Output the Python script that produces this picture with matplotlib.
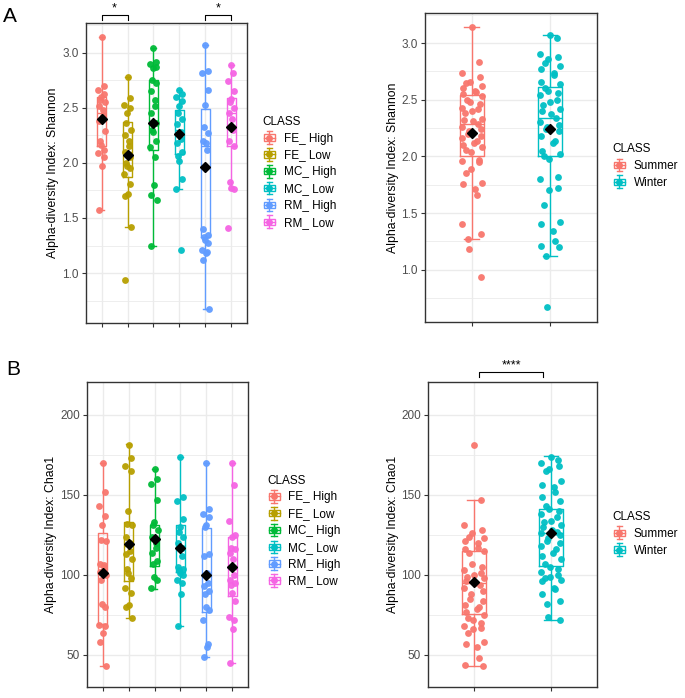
import numpy as np
import matplotlib
matplotlib.use("Agg")
import matplotlib.pyplot as plt
from matplotlib.lines import Line2D
from matplotlib.patches import Rectangle
from matplotlib.legend_handler import HandlerBase

plt.rcParams['font.family'] = ['Liberation Sans', 'DejaVu Sans']

# ---------------- data ----------------
six_classes = ["FE_ High", "FE_ Low", "MC_ High", "MC_ Low", "RM_ High", "RM_ Low"]
six_colors = ["#F8766D", "#B79F00", "#00BA38", "#00BFC4", "#619CFF", "#F564E3"]
season_classes = ["Summer", "Winter"]
season_colors = ["#F8766D", "#00BFC4"]

# Shannon, by site/level
sh_fe_high = [3.14, 2.70, 2.66, 2.63, 2.60, 2.57, 2.55, 2.52, 2.48, 2.43, 2.38, 2.29, 2.20, 2.16, 2.12, 2.09, 2.05, 1.97, 1.57]
sh_fe_low = [2.78, 2.59, 2.53, 2.50, 2.45, 2.36, 2.30, 2.25, 2.20, 2.15, 2.10, 2.05, 2.00, 1.97, 1.95, 1.90, 1.81, 1.72, 1.70, 1.42, 0.94]
sh_mc_high = [3.04, 2.92, 2.90, 2.87, 2.86, 2.75, 2.73, 2.65, 2.57, 2.52, 2.45, 2.36, 2.30, 2.28, 2.20, 2.14, 2.05, 1.80, 1.71, 1.66, 1.25]
sh_mc_low = [2.66, 2.63, 2.60, 2.56, 2.52, 2.45, 2.40, 2.35, 2.28, 2.22, 2.18, 2.10, 2.06, 2.02, 1.85, 1.76, 1.21]
sh_rm_high = [3.07, 2.83, 2.82, 2.66, 2.53, 2.33, 2.27, 2.20, 2.18, 2.12, 1.40, 1.35, 1.33, 1.30, 1.27, 1.21, 1.19, 1.18, 1.12, 0.67]
sh_rm_low = [2.89, 2.82, 2.74, 2.65, 2.58, 2.55, 2.50, 2.45, 2.40, 2.30, 2.20, 2.15, 1.83, 1.77, 1.76, 1.41]

# box stats for the six groups (Shannon)
sh6_lo = [1.57, 1.42, 1.25, 1.76, 0.67, 1.76]
sh6_q1 = [2.15, 1.87, 2.12, 2.08, 1.33, 2.15]
sh6_med = [2.45, 2.10, 2.35, 2.30, 2.15, 2.45]
sh6_q3 = [2.60, 2.37, 2.75, 2.48, 2.49, 2.59]
sh6_hi = [3.14, 2.78, 3.04, 2.66, 3.07, 2.89]
sh6_mean = [2.40, 2.07, 2.36, 2.26, 1.96, 2.33]

# Shannon, by season
sh_summer = [3.14, 2.83, 2.74, 2.70, 2.66, 2.65, 2.62, 2.60, 2.58, 2.57, 2.55, 2.53, 2.50, 2.48, 2.46, 2.43,
             2.42, 2.40, 2.38, 2.33, 2.32, 2.31, 2.29, 2.26, 2.24, 2.22, 2.20, 2.18, 2.16, 2.14, 2.12, 2.10,
             2.08, 2.06, 2.04, 1.97, 1.96, 1.95, 1.89, 1.85, 1.77, 1.76, 1.71, 1.66, 1.40, 1.32, 1.27, 1.18, 0.94]
sh_winter = [3.07, 3.04, 2.90, 2.88, 2.86, 2.82, 2.80, 2.77, 2.74, 2.72, 2.66, 2.64, 2.60, 2.58, 2.56, 2.54,
             2.50, 2.48, 2.45, 2.42, 2.40, 2.37, 2.34, 2.30, 2.28, 2.26, 2.24, 2.22, 2.18, 2.14, 2.12, 2.05,
             2.02, 2.00, 1.98, 1.82, 1.80, 1.72, 1.70, 1.57, 1.42, 1.40, 1.34, 1.25, 1.21, 1.20, 1.12, 0.67]
sh2_lo = [1.27, 1.12]
sh2_q1 = [2.00, 2.00]
sh2_med = [2.29, 2.34]
sh2_q3 = [2.54, 2.61]
sh2_hi = [3.14, 3.07]
sh2_mean = [2.21, 2.24]

# Chao1, by site/level
ch_fe_high = [170, 152, 143, 137, 131, 122, 121, 107, 106, 105, 102, 100, 97, 82, 80, 69, 68, 64, 58, 43]
ch_fe_low = [181, 173, 168, 165, 140, 132, 131, 124, 120, 115, 113, 110, 104, 101, 98, 92, 89, 81, 80, 73]
ch_mc_high = [166, 160, 157, 147, 133, 131, 128, 124, 120, 117, 114, 109, 107, 99, 97, 92]
ch_mc_low = [174, 149, 146, 135, 130, 127, 124, 120, 117, 112, 105, 104, 103, 101, 100, 97, 95, 88, 68]
ch_rm_high = [170, 141, 138, 136, 131, 130, 113, 112, 101, 95, 93, 90, 88, 80, 78, 72, 57, 55, 49]
ch_rm_low = [170, 156, 134, 125, 124, 117, 116, 114, 110, 100, 97, 95, 94, 89, 84, 74, 72, 66, 45]

ch6_lo = [43, 73, 91.5, 68, 48.5, 45]
ch6_q1 = [69.5, 96, 105.5, 102, 77, 87]
ch6_med = [103, 118, 122, 118, 100, 104]
ch6_q3 = [126, 133, 131.5, 131, 129.5, 124]
ch6_hi = [170, 182, 166, 174, 170, 170]
ch6_mean = [101, 119.5, 122.5, 117, 100, 105]

# Chao1, by season
ch_summer = [181, 147, 131, 128, 126, 124, 123, 121, 120, 117, 116, 115, 114, 107, 105, 103, 101, 100, 99,
             98, 96, 95, 94, 92, 90, 88, 85, 84, 81, 80, 79, 77, 75, 73, 72, 70, 68, 67, 66, 64, 58, 57,
             55, 48, 44, 43]
ch_winter = [174, 172, 170, 168, 166, 165, 159, 156, 155, 152, 149, 146, 143, 141, 140, 138, 136, 134, 133,
             131, 130, 128, 127, 126, 125, 123, 121, 120, 118, 116, 114, 112, 110, 107, 105, 104, 102, 100,
             99, 98, 97, 96, 92, 91, 88, 84, 82, 74, 72]
ch2_lo = [43, 72]
ch2_q1 = [75.5, 105.5]
ch2_med = [95, 126.5]
ch2_q3 = [115, 141.5]
ch2_hi = [147, 174.5]
ch2_mean = [95.5, 126]

GRID = "#EBEBEB"
FRAME = "#333333"
TICKLAB = "#4D4D4D"


class BoxKey(HandlerBase):
    # small boxplot glyph for the legend keys
    def create_artists(self, legend, orig_handle, xdescent, ydescent, width, height, fontsize, trans):
        c = orig_handle.get_color()
        x0, y0 = -xdescent, -ydescent
        cx, cy = x0 + width / 2, y0 + height / 2
        bw, bh = width * 0.8, height * 0.6
        arts = [
            Line2D([cx, cx], [y0 - 0.1 * height, y0 + 1.1 * height], color=c, lw=1),
            Line2D([cx - bw * 0.25, cx + bw * 0.25], [y0 + 1.1 * height] * 2, color=c, lw=1),
            Line2D([cx - bw * 0.25, cx + bw * 0.25], [y0 - 0.1 * height] * 2, color=c, lw=1),
            Rectangle((cx - bw / 2, cy - bh / 2), bw, bh, fc="white", ec=c, lw=1),
            Line2D([cx - bw / 2, cx + bw / 2], [cy, cy], color=c, lw=1),
            Line2D([cx], [cy], marker="o", color=c, ms=4, lw=0),
        ]
        for a in arts:
            a.set_transform(trans)
        return arts


def draw_panel(ax, groups, colors, lo, q1, med, q3, hi, means, ylim, yticks, minor, ylabel, labx,
               box_w, cap_w, jit):
    pos = np.arange(1, len(groups) + 1)
    ax.set_xlim(0.4, len(groups) + 0.6)
    ax.set_ylim(*ylim)
    ax.set_yticks(yticks)
    ax.set_yticks(minor, minor=True)
    ax.set_xticks(pos)
    ax.set_xticklabels([])
    ax.grid(True, which="major", color=GRID, lw=1.0, zorder=0)
    ax.grid(True, which="minor", axis="y", color=GRID, lw=0.6, zorder=0)
    ax.set_axisbelow(True)
    for s in ax.spines.values():
        s.set_color(FRAME)
        s.set_linewidth(1.0)
    ax.tick_params(axis="both", which="major", length=3, width=0.8, color=FRAME, labelsize=8.5,
                   labelcolor=TICKLAB, pad=2)
    ax.tick_params(axis="y", which="minor", length=0)
    ax.set_ylabel(ylabel, fontsize=8.8, color="black")
    ax.yaxis.set_label_coords(labx, 0.5)

    for i, vals in enumerate(groups):
        c = colors[i]
        st = [dict(med=med[i], q1=q1[i], q3=q3[i], whislo=lo[i], whishi=hi[i], fliers=[])]
        props = dict(color=c, lw=1.0)
        ax.bxp(st, positions=[pos[i]], widths=box_w, capwidths=cap_w, showfliers=False,
               boxprops=props, whiskerprops=props, capprops=props, medianprops=props,
               manage_ticks=False, zorder=2)
        n = len(vals)
        offs = jit * np.sin(np.arange(n) * 2.39996)
        ax.plot(pos[i] + offs, vals, "o", color=c, ms=4.9, mew=0, alpha=0.95, zorder=3)
        ax.plot(pos[i], means[i], "D", color="black", ms=5.5, zorder=5)
    return pos


def add_bracket(ax, x1, x2, ylow, yhigh, text):
    ax.plot([x1, x1, x2, x2], [ylow, yhigh, yhigh, ylow], color="black", lw=0.8, clip_on=False)
    ax.text((x1 + x2) / 2, yhigh, text, ha="center", va="bottom", fontsize=9, clip_on=False)


def add_legend(ax, labels, colors, anchor, size):
    handles = [Line2D([], [], color=c) for c in colors]
    leg = ax.legend(handles, labels, handler_map={Line2D: BoxKey()}, title="CLASS",
                    loc="upper left", bbox_to_anchor=anchor, bbox_transform=ax.figure.transFigure,
                    frameon=False, fontsize=size, title_fontsize=8.5, borderpad=0, borderaxespad=0,
                    handlelength=1.2, handleheight=1.0, handletextpad=0.6, labelspacing=0.38,
                    alignment="left")
    return leg


fig = plt.figure(figsize=(6.85, 6.98), dpi=100)
ax1 = fig.add_axes([0.1255, 0.537, 0.235, 0.430])
ax2 = fig.add_axes([0.6204, 0.5387, 0.2511, 0.4427])
ax3 = fig.add_axes([0.127, 0.0158, 0.235, 0.437])
ax4 = fig.add_axes([0.6248, 0.0158, 0.2467, 0.437])

sh6 = [sh_fe_high, sh_fe_low, sh_mc_high, sh_mc_low, sh_rm_high, sh_rm_low]
ch6 = [ch_fe_high, ch_fe_low, ch_mc_high, ch_mc_low, ch_rm_high, ch_rm_low]

p1 = draw_panel(ax1, sh6, six_colors, sh6_lo, sh6_q1, sh6_med, sh6_q3, sh6_hi, sh6_mean,
                (0.545, 3.27), [1.0, 1.5, 2.0, 2.5, 3.0], [0.75, 1.25, 1.75, 2.25, 2.75, 3.25],
                "Alpha-diversity Index: Shannon", -0.17, 0.32, 0.2, 0.12)
add_bracket(ax1, p1[0], p1[1], 3.30, 3.345, "*")
add_bracket(ax1, p1[4], p1[5], 3.30, 3.345, "*")
add_legend(ax1, six_classes, six_colors, (0.383, 0.834), 8.5)

draw_panel(ax2, [sh_summer, sh_winter], season_colors, sh2_lo, sh2_q1, sh2_med, sh2_q3, sh2_hi, sh2_mean,
           (0.54, 3.265), [1.0, 1.5, 2.0, 2.5, 3.0], [0.75, 1.25, 1.75, 2.25, 2.75, 3.25],
           "Alpha-diversity Index: Shannon", -0.15, 0.31, 0.19, 0.13)
add_legend(ax2, season_classes, season_colors, (0.894, 0.795), 8.5)

draw_panel(ax3, ch6, six_colors, ch6_lo, ch6_q1, ch6_med, ch6_q3, ch6_hi, ch6_mean,
           (30, 220.6), [50, 100, 150, 200], [75, 125, 175],
           "Alpha-diversity Index: Chao1", -0.186, 0.32, 0.2, 0.12)
add_legend(ax3, six_classes, six_colors, (0.39, 0.320), 8.5)

p4 = draw_panel(ax4, [ch_summer, ch_winter], season_colors, ch2_lo, ch2_q1, ch2_med, ch2_q3, ch2_hi, ch2_mean,
                (30, 220.6), [50, 100, 150, 200], [75, 125, 175],
                "Alpha-diversity Index: Chao1", -0.17, 0.31, 0.19, 0.13)
add_bracket(ax4, p4[0] + 0.07, p4[1] - 0.1, 223.8, 226.9, "****")
add_legend(ax4, season_classes, season_colors, (0.894, 0.268), 8.5)

fig.text(0.005, 0.99, "A", fontsize=15, ha="left", va="top")
fig.text(0.009, 0.484, "B", fontsize=15, ha="left", va="top")

fig.savefig("out.png", dpi=100)
